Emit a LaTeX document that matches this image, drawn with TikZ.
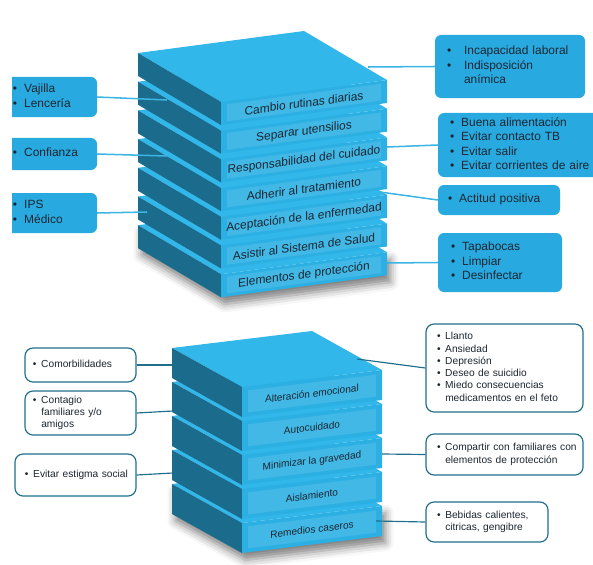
\documentclass[tikz,border=0pt]{standalone}
\usepackage{fontspec}
\setmainfont{Liberation Sans}
\usetikzlibrary{shadows.blur}
\definecolor{SlabTop}{RGB}{50,183,234}
\definecolor{SlabSide}{RGB}{27,108,140}
\definecolor{SlabFront}{RGB}{44,176,228}
\definecolor{BoxBlue}{RGB}{40,170,225}
\definecolor{LinkBlue}{RGB}{60,180,228}
\definecolor{TealLine}{RGB}{30,110,140}
\definecolor{TextDark}{RGB}{28,38,48}
\newcommand{\bitems}[2]{\begin{tabular}{@{}l@{\hspace{#1}}l@{}}#2\end{tabular}}

\begin{document}
\begin{tikzpicture}[x=0.03cm, y=-0.03cm,
  topface/.style={fill=SlabTop},
  sideface/.style={fill=SlabSide},
  frontface/.style={fill=SlabFront},
  panel/.style={fill=white, fill opacity=0.1},
  slablbl/.style={text=TextDark, inner sep=0pt},
  tbox/.style={fill=BoxBlue, rounded corners=0.18cm, text=TextDark, align=left,
               inner ysep=0pt, font=\fontsize{10.2}{12.4}\selectfont},
  bbox/.style={draw=TealLine, line width=1pt, fill=white, rounded corners=0.24cm,
               text=TextDark, align=left, inner ysep=0pt, font=\fontsize{8.7}{10.5}\selectfont},
  tlink/.style={draw=LinkBlue, line width=1.3pt},
  blink/.style={draw=TealLine, line width=1pt},
]
\useasboundingbox (0,0) rectangle (593,565);

%% Upper stack: shadow
\path[blur shadow={shadow xshift=3pt, shadow yshift=-6pt, shadow blur radius=7pt, shadow opacity=50}]
  (138,225.2) -- (221,274.2) -- (387,252.2) -- (387,275.2) -- (221,297.2) -- (138,248.2) -- cycle;
%% Upper stack: slabs, bottom first
\foreach \i in {6,5,...,0}{
  \pgfmathsetmacro{\dy}{28.7*\i}
  \fill[topface]   (138,53+\dy) -- (221,102+\dy) -- (387,80+\dy) -- (304,31+\dy) -- cycle;
  \fill[sideface]  (138,53+\dy) -- (221,102+\dy) -- (221,125+\dy) -- (138,76+\dy) -- cycle;
  \fill[frontface] (221,102+\dy) -- (387,80+\dy) -- (387,103+\dy) -- (221,125+\dy) -- cycle;
  \fill[panel]     (227,104.2+\dy) -- (381,83.8+\dy) -- (381,100.8+\dy) -- (227,121.2+\dy) -- cycle;
}
\foreach \lbl [count=\i from 0] in {Cambio rutinas diarias, Separar utensilios,
    Responsabilidad del cuidado, Adherir al tratamiento, Aceptación de la enfermedad,
    Asistir al Sistema de Salud, Elementos de protección}
  \node[slablbl, font=\fontsize{10.2}{12}\selectfont, yslant=0.1325] (up\i) at (304,103+28.7*\i) {\lbl};

%% Lower stack: shadow
\path[blur shadow={shadow xshift=3pt, shadow yshift=-6pt, shadow blur radius=7pt, shadow opacity=50}]
  (172,484) -- (242,523) -- (382,506) -- (382,536) -- (242,553) -- (172,514) -- cycle;
%% Lower stack: slabs, bottom first
\foreach \i in {4,3,...,0}{
  \pgfmathsetmacro{\dy}{34*\i}
  \fill[topface]   (172,348+\dy) -- (242,387+\dy) -- (382,370+\dy) -- (312,331+\dy) -- cycle;
  \fill[sideface]  (172,348+\dy) -- (242,387+\dy) -- (242,417+\dy) -- (172,378+\dy) -- cycle;
  \fill[frontface] (242,387+\dy) -- (382,370+\dy) -- (382,400+\dy) -- (242,417+\dy) -- cycle;
  \fill[panel]     (248,390.3+\dy) -- (376,374.7+\dy) -- (376,396.7+\dy) -- (248,412.3+\dy) -- cycle;
}
\foreach \lbl [count=\i from 0] in {Alteración emocional, Autocuidado,
    Minimizar la gravedad, Aislamiento, Remedios caseros}
  \node[slablbl, font=\fontsize{8.6}{10}\selectfont, yslant=0.121] (low\i) at (312,393.5+34*\i) {\lbl};

%% Upper left boxes (cut at the left edge)
\begin{scope}
\clip (12,0) rectangle (140,300);
\node[tbox, text width=2.13cm, inner xsep=0.39cm, minimum height=1.2cm] (vaj) at (48.5,97)
  {\bitems{6pt}{\textbullet & Vajilla\\ \textbullet & Lencería}};
\node[tbox, text width=2.13cm, inner xsep=0.39cm, minimum height=0.96cm] (conf) at (48.5,154)
  {\bitems{6pt}{\textbullet & Confianza}};
\node[tbox, text width=2.13cm, inner xsep=0.39cm, minimum height=1.2cm] (ips) at (48.5,213)
  {\bitems{6pt}{\textbullet & IPS\\ \textbullet & Médico}};
\end{scope}

%% Upper right boxes
\node[tbox, text width=3.78cm, inner xsep=0.36cm, minimum height=1.89cm] (incap) at (510,66.5)
  {\bitems{11pt}{\textbullet & Incapacidad laboral\\ \textbullet & Indisposición\\ & anímica}};
\node[tbox, text width=4.44cm, inner xsep=0.36cm, minimum height=1.92cm] (alim) at (524,145)
  {\bitems{6pt}{\textbullet & Buena alimentación\\ \textbullet & Evitar contacto TB\\
   \textbullet & Evitar salir\\ \textbullet & Evitar corrientes de aire}};
\node[tbox, text width=3.06cm, inner xsep=0.3cm, minimum height=0.9cm] (actit) at (499,200)
  {\bitems{6pt}{\textbullet & Actitud positiva}};
\node[tbox, text width=2.94cm, inner xsep=0.39cm, minimum height=1.77cm] (tapab) at (500,262.5)
  {\bitems{6pt}{\textbullet & Tapabocas\\ \textbullet & Limpiar\\ \textbullet & Desinfectar}};

%% Lower left boxes
\node[bbox, text width=2.85cm, inner xsep=0.24cm, minimum height=1.02cm] (comor) at (80.5,365)
  {\bitems{4pt}{\textbullet & Comorbilidades}};
\node[bbox, text width=2.85cm, inner xsep=0.24cm, minimum height=1.32cm] (conta) at (80.5,413)
  {\bitems{4pt}{\textbullet & Contagio\\ & familiares y/o\\ & amigos}};
\node[bbox, text width=3.03cm, inner xsep=0.3cm, minimum height=1.26cm] (estig) at (75.5,475)
  {\bitems{4pt}{\textbullet & Evitar estigma social}};

%% Lower right boxes
\node[bbox, text width=4.05cm, inner xsep=0.33cm, minimum height=2.64cm] (llanto) at (504.5,368)
  {\bitems{4pt}{\textbullet & Llanto\\ \textbullet & Ansiedad\\ \textbullet & Depresión\\
   \textbullet & Deseo de suicidio\\ \textbullet & Miedo consecuencias\\ & medicamentos en el feto}};
\node[bbox, text width=4.05cm, inner xsep=0.33cm, minimum height=1.23cm] (compar) at (504.5,454.5)
  {\bitems{4pt}{\textbullet & Compartir con familiares con\\ & elementos de protección}};
\node[bbox, text width=3.0cm, inner xsep=0.33cm, minimum height=1.2cm] (bebid) at (487,522)
  {\bitems{4pt}{\textbullet & Bebidas calientes,\\ & citricas, gengibre}};

%% Connector ends on the stacks
\coordinate (cVaj) at (167,100);
\coordinate (cConf) at (167,156);
\coordinate (cIps) at (147,212);
\coordinate (cIncap) at (368,67);
\coordinate (cAlim) at (387,147);
\coordinate (cActit) at (380,192);
\coordinate (cTapab) at (387,263);
\coordinate (cComor) at (173,365);
\coordinate (cConta) at (173,411);
\coordinate (cEstig) at (173,473);
\coordinate (cLlanto) at (357,359);
\coordinate (cCompar) at (382,454);
\coordinate (cBebid) at (376,521);

%% Connectors
\draw[tlink] (vaj.east) -- (cVaj);
\draw[tlink] (conf.east) -- (cConf);
\draw[tlink] (ips.east) -- (cIps);
\draw[tlink] (incap.west) -- (cIncap);
\draw[tlink] (alim.west) -- (cAlim);
\draw[tlink] (actit.west) -- (cActit);
\draw[tlink] (tapab.west) -- (cTapab);
\draw[blink] (comor.east) -- (cComor);
\draw[blink] (conta.east) -- (cConta);
\draw[blink] (estig.east) -- (cEstig);
\draw[blink] (llanto.west) -- (cLlanto);
\draw[blink] (compar.west) -- (cCompar);
\draw[blink] (bebid.west) -- (cBebid);
\end{tikzpicture}
\end{document}
